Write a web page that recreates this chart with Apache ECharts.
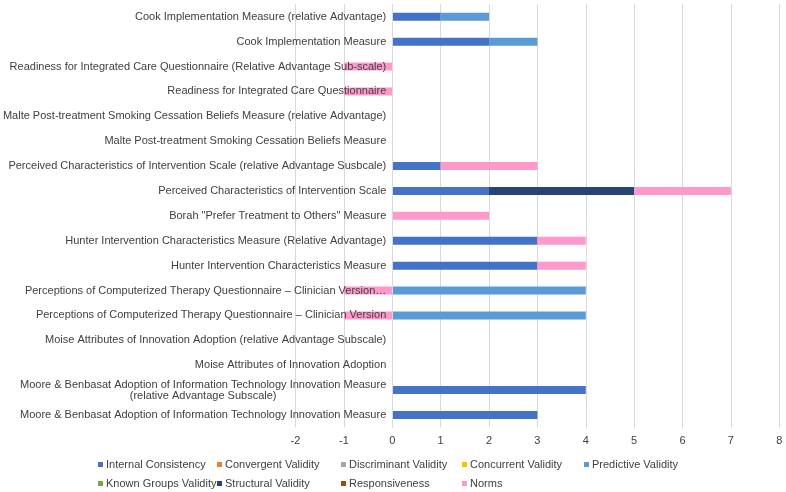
<!DOCTYPE html>
<html>
<head>
<meta charset="utf-8">
<script src="https://cdn.jsdelivr.net/npm/echarts@6/dist/echarts.min.js"></script>
<style>
html,body{margin:0;padding:0;background:#fff;}
#chart{width:786px;height:492px;}
</style>
</head>
<body>
<div id="chart"></div>
<script>
var categories = [
  "Cook Implementation Measure (relative Advantage)",
  "Cook Implementation Measure",
  "Readiness for Integrated Care Questionnaire (Relative Advantage Sub-scale)",
  "Readiness for Integrated Care Questionnaire",
  "Malte Post-treatment Smoking Cessation Beliefs Measure (relative Advantage)",
  "Malte Post-treatment Smoking Cessation Beliefs Measure",
  "Perceived Characteristics of Intervention Scale (relative Advantage Susbcale)",
  "Perceived Characteristics of Intervention Scale",
  "Borah \"Prefer Treatment to Others\" Measure",
  "Hunter Intervention Characteristics Measure (Relative Advantage)",
  "Hunter Intervention Characteristics Measure",
  "Perceptions of Computerized Therapy Questionnaire \u2013 Clinician Version\u2026",
  "Perceptions of Computerized Therapy Questionnaire \u2013 Clinician Version",
  "Moise Attributes of Innovation Adoption (relative Advantage Subscale)",
  "Moise Attributes of Innovation Adoption",
  "Moore & Benbasat Adoption of Information Technology Innovation Measure (relative Advantage Subscale)",
  "Moore & Benbasat Adoption of Information Technology Innovation Measure"
];
var seriesNames = ["Internal Consistency","Convergent Validity","Discriminant Validity","Concurrent Validity","Predictive Validity","Known Groups Validity","Structural Validity","Responsiveness","Norms"];
var internalConsistency = [1,2,0,0,0,0,1,2,0,3,3,0,0,0,0,4,3];
var convergentValidity  = [0,0,0,0,0,0,0,0,0,0,0,0,0,0,0,0,0];
var discriminantValidity= [0,0,0,0,0,0,0,0,0,0,0,0,0,0,0,0,0];
var concurrentValidity  = [0,0,0,0,0,0,0,0,0,0,0,0,0,0,0,0,0];
var predictiveValidity  = [1,1,0,0,0,0,0,0,0,0,0,4,4,0,0,0,0];
var knownGroupsValidity = [0,0,0,0,0,0,0,0,0,0,0,0,0,0,0,0,0];
var structuralValidity  = [0,0,0,0,0,0,0,3,0,0,0,0,0,0,0,0,0];
var responsiveness      = [0,0,0,0,0,0,0,0,0,0,0,0,0,0,0,0,0];
var norms               = [0,0,-1,-1,0,0,2,2,2,1,1,-1,-1,0,0,0,0];
var xTicks = [-2,-1,0,1,2,3,4,5,6,7,8];

var seriesData = [internalConsistency,convergentValidity,discriminantValidity,concurrentValidity,predictiveValidity,knownGroupsValidity,structuralValidity,responsiveness,norms];
var colors = ["#4472C4","#ED7D31","#A5A5A5","#FFC000","#5B9BD5","#70AD47","#264478","#9E480E","#FF99CC"];

var FONT = "'Liberation Sans', Arial, sans-serif";
var TXT = "#404040";

var GRID_LEFT = 295.5, GRID_RIGHT = 6.7;
var unitPx = (786 - GRID_LEFT - GRID_RIGHT) / (xTicks[xTicks.length-1] - xTicks[0]);
var zeroOffset = -(0 - xTicks[0]) * unitPx;

var legendCols = [99, 218, 342, 463, 585];
var legendRows = [459, 478];
var legends = seriesNames.map(function(n, i){
  var row = i < 5 ? 0 : 1;
  var col = i < 5 ? i : i - 5;
  return {
    data: [n], left: legendCols[col] - 1, top: legendRows[row], padding: 0,
    itemWidth: 5, itemHeight: 5, icon: 'rect', itemGap: 0,
    textStyle: {fontSize: 11, color: TXT, fontFamily: FONT, padding: [0,0,0,-2]}
  };
});

var chart = echarts.init(document.getElementById('chart'), null, {renderer: 'canvas'});
chart.setOption({
  backgroundColor: '#fff',
  animation: false,
  color: colors,
  legend: legends,
  grid: {left: GRID_LEFT, right: GRID_RIGHT, top: 4.3, bottom: 64.6, containLabel: false, outerBoundsMode: 'none'},
  xAxis: {
    type: 'value', min: xTicks[0], max: xTicks[xTicks.length-1], interval: 1,
    axisLine: {show: false}, axisTick: {show: false},
    splitLine: {show: true, lineStyle: {color: '#d9d9d9', width: 1}},
    axisLabel: {fontSize: 11, color: TXT, fontFamily: FONT, margin: 8}
  },
  yAxis: {
    type: 'category', inverse: true, data: categories, z: 5,
    position: 'left', offset: zeroOffset,
    axisLine: {show: true, onZero: false, lineStyle: {color: '#d9d9d9'}},
    axisTick: {show: false},
    axisLabel: {
      fontSize: 11, color: TXT, fontFamily: FONT, margin: 6, interval: 0,
      formatter: function(v){
        if (v.length > 80) {
          var k = v.lastIndexOf(' (');
          return '{a|' + v.slice(0, k) + '}\n{b|' + v.slice(k + 1) + '}';
        }
        return v;
      },
      rich: {
        a: {fontSize: 11, color: TXT, fontFamily: FONT, lineHeight: 11},
        b: {fontSize: 11, color: TXT, fontFamily: FONT, lineHeight: 11, width: 363, align: 'center'}
      }
    }
  },
  series: seriesNames.map(function(n, i){
    return {
      name: n, type: 'bar', stack: 'total', barWidth: 8,
      data: seriesData[i].map(function(v){ return v === 0 ? null : v; }),
      itemStyle: {color: colors[i]}
    };
  })
});
</script>
</body>
</html>
